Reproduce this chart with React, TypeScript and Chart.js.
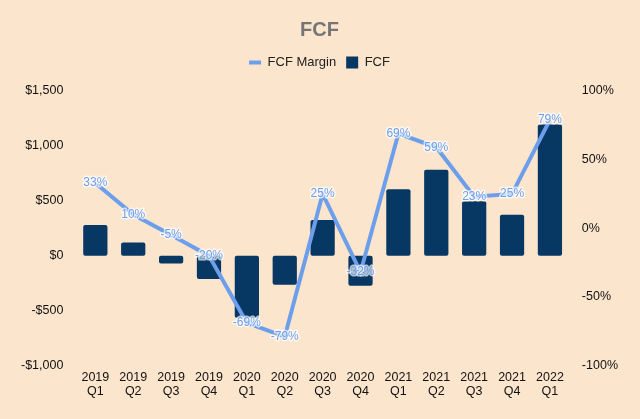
import React, { useEffect, useRef } from "react";
import { Chart, registerables } from "chart.js";

Chart.register(...registerables);

const categories: string[][] = [
  ["2019", "Q1"], ["2019", "Q2"], ["2019", "Q3"], ["2019", "Q4"],
  ["2020", "Q1"], ["2020", "Q2"], ["2020", "Q3"], ["2020", "Q4"],
  ["2021", "Q1"], ["2021", "Q2"], ["2021", "Q3"], ["2021", "Q4"],
  ["2022", "Q1"],
];
const fcfValues: number[] = [279, 121, -70, -212, -565, -264, 325, -273, 606, 782, 495, 373, 1194];
const fcfMargin: number[] = [33, 10, -5, -20, -69, -79, 25, -32, 69, 59, 23, 25, 79];
const leftTickRange = { min: -1000, max: 1500, step: 500 };
const rightTickRange = { min: -100, max: 100, step: 50 };

const BG = "#FCE5CD";
const BAR = "#073763";
const LINE = "#6D9EEB";
const FONT = "'Liberation Sans', Arial, sans-serif";

const marginLabels = {
  id: "marginLabels",
  afterDatasetsDraw(chart: any) {
    const meta = chart.getDatasetMeta(0);
    const ctx = chart.ctx;
    ctx.save();
    ctx.font = `12px ${FONT}`;
    ctx.textAlign = "center";
    ctx.textBaseline = "middle";
    ctx.lineJoin = "round";
    meta.data.forEach((pt: any, i: number) => {
      const t = `${fcfMargin[i]}%`;
      ctx.lineWidth = 3;
      ctx.strokeStyle = "rgba(255,255,255,0.7)";
      ctx.strokeText(t, pt.x, pt.y);
      ctx.fillStyle = LINE;
      ctx.fillText(t, pt.x, pt.y);
    });
    ctx.restore();
  },
};

const legendSpacing = {
  id: "legendSpacing",
  beforeInit(chart: any) {
    const legend = chart.legend;
    if (!legend) return;
    const origFit = legend.fit;
    legend.fit = function () {
      origFit.call(this);
      this.height += 12;
    };
  },
};

function money(v: number): string {
  const a = Math.abs(v).toLocaleString("en-US");
  return v < 0 ? `-$${a}` : `$${a}`;
}

export default function App() {
  const ref = useRef<HTMLCanvasElement | null>(null);
  useEffect(() => {
    document.body.style.margin = "0";
    if (!ref.current) return;
    const chart = new Chart(ref.current, {
      type: "bar",
      data: {
        labels: categories,
        datasets: [
          {
            type: "line",
            label: "FCF Margin",
            data: fcfMargin,
            yAxisID: "y1",
            borderColor: LINE,
            backgroundColor: LINE,
            borderWidth: 4,
            pointRadius: 0,
            pointStyle: "line",
            tension: 0,
            order: 0,
          } as any,
          {
            type: "bar",
            label: "FCF",
            data: fcfValues,
            yAxisID: "y",
            backgroundColor: BAR,
            borderColor: BAR,
            borderWidth: 0,
            borderRadius: 2,
            borderSkipped: false,
            pointStyle: "rect",
            barPercentage: 0.64,
            categoryPercentage: 1,
            order: 1,
          } as any,
        ],
      },
      options: {
        responsive: false,
        animation: false,
        layout: { padding: { top: 16, left: 16, right: 17, bottom: 21 } },
        plugins: {
          title: {
            display: true,
            text: "FCF",
            color: "#757575",
            font: { family: FONT, size: 20, weight: "bold" },
            padding: { top: 2, bottom: 4 },
          },
          legend: {
            display: true,
            position: "top",
            labels: {
              color: "#222",
              font: { family: FONT, size: 13 },
              usePointStyle: true,
              boxHeight: 12,
              boxWidth: 12,
              pointStyleWidth: 12,
              padding: 10,
            },
          },
          tooltip: { enabled: false },
        },
        scales: {
          x: {
            grid: { display: false, tickLength: 5 },
            border: { display: false },
            ticks: {
              color: "#111",
              font: { family: FONT, size: 12.5, lineHeight: 1.1 },
              maxRotation: 0,
              autoSkip: false,
              padding: 0,
            },
          },
          y: {
            position: "left",
            min: leftTickRange.min,
            max: leftTickRange.max,
            grid: { display: false },
            border: { display: false },
            ticks: {
              stepSize: leftTickRange.step,
              color: "#111",
              font: { family: FONT, size: 12.5 },
              padding: 5,
              callback: (v: any) => money(Number(v)),
            },
          },
          y1: {
            position: "right",
            min: rightTickRange.min,
            max: rightTickRange.max,
            grid: { display: false },
            border: { display: false },
            ticks: {
              stepSize: rightTickRange.step,
              color: "#111",
              font: { family: FONT, size: 12.5 },
              padding: 5,
              callback: (v: any) => `${v}%`,
            },
          },
        },
      },
      plugins: [marginLabels, legendSpacing],
    });
    return () => chart.destroy();
  }, []);
  return (
    <div style={{ width: 640, height: 419, background: BG }}>
      <canvas ref={ref} width={640} height={419} />
    </div>
  );
}
